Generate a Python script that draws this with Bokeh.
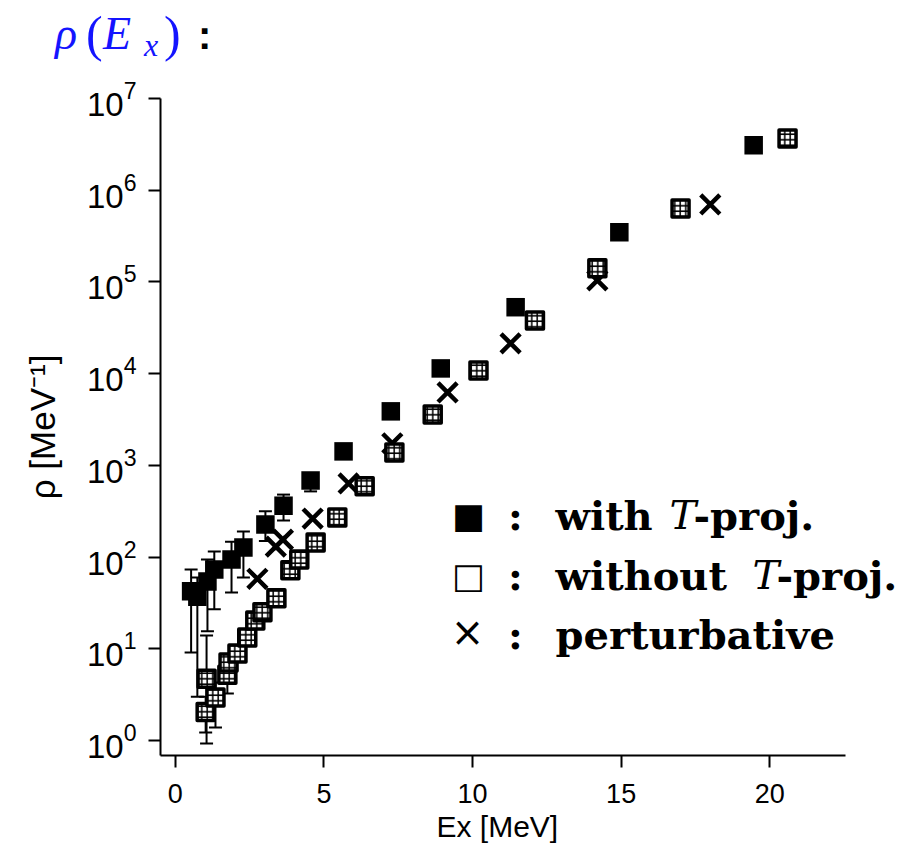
import math
from bokeh.plotting import figure
from bokeh.layouts import column
from bokeh.models import (Range1d, FixedTicker, Whisker, TeeHead, ColumnDataSource,
                          Label, LogTickFormatter, Title, Div)
from bokeh.embed import file_html
from bokeh.resources import INLINE

# ---------------- data ----------------
# with T-projection (filled squares)
ex_with = [0.53, 0.74, 1.08, 1.31, 1.89, 2.29, 3.03, 3.64, 4.55, 5.66, 7.25, 8.93, 11.45, 14.94, 19.46]
rho_with = [42.5, 37, 54, 73, 94, 127, 227, 363, 684, 1420, 3880, 11400, 53000, 347000, 3090000]
# error bars of the low-lying "with" points
ex_with_err = [0.53, 0.74, 1.08, 1.31, 1.89, 2.29, 3.03, 3.64, 4.55]
with_err_lo = [9.1, 3.0, 15.5, 27, 41, 60, 150, 250, 520]
with_err_hi = [73, 60, 94, 115, 147, 190, 315, 480, 780]

# without T-projection (open squares)
ex_wo = [1.02, 1.05, 1.35, 1.75, 1.79, 2.09, 2.42, 2.69, 2.93, 3.40, 3.87, 4.17, 4.72,
         5.45, 6.37, 7.37, 8.66, 10.2, 12.1, 14.2, 17.0, 20.6]
rho_wo = [2.04, 4.7, 2.95, 5.2, 7.1, 8.9, 13.3, 20.3, 25, 35.5, 72, 94, 144,
          270, 590, 1380, 3590, 10800, 38000, 141000, 631000, 3670000]
ex_wo_err = [1.02, 1.05, 1.35, 1.75]
wo_err_lo = [1.22, 0.93, 1.39, 3.25]
wo_err_hi = [3.0, 14.0, 4.3, 6.8]

# perturbative (crosses)
ex_pert = [2.76, 3.38, 3.62, 4.62, 5.83, 7.30, 9.16, 11.28, 14.2, 18.0]
rho_pert = [58, 130, 155, 263, 635, 1740, 6240, 21400, 104000, 700000]

x_ticks = [0, 5, 10, 15, 20]
y_ticks = [1, 10, 100, 1e3, 1e4, 1e5, 1e6, 1e7]

# ---------------- geometry ----------------
TITLE_H = 70
AX_X_LO, AX_X_HI = -0.5, 22.55          # extent of the drawn x axis
Y_LO, Y_HI = 10 ** -0.1636, 1e7
AX_W, AX_H = 685, 657
FRAME_L, FRAME_T = 160, 98               # page px of frame left / top
FRAME_W = 760                            # frame continues right of the axis (legend room)

XS = AX_W / (AX_X_HI - AX_X_LO)
YS = AX_H / (math.log10(Y_HI) - math.log10(Y_LO))
X_LO = AX_X_LO
X_HI = AX_X_LO + FRAME_W / XS

p = figure(frame_width=FRAME_W, frame_height=AX_H, y_axis_type="log",
           x_range=Range1d(X_LO, X_HI), y_range=Range1d(Y_LO, Y_HI),
           output_backend="svg", toolbar_location=None,
           min_border_left=FRAME_L, min_border_top=FRAME_T - TITLE_H,
           min_border_right=0, min_border_bottom=40,
           background_fill_color="white", border_fill_color="white")
p.outline_line_color = None
p.grid.visible = False

for ax in (p.xaxis[0], p.yaxis[0]):
    ax.axis_line_width = 2
    ax.axis_line_color = "black"
    ax.major_tick_line_width = 2
    ax.major_tick_line_color = "black"
    ax.major_tick_out = 12
    ax.major_tick_in = 0
    ax.minor_tick_line_color = None
    ax.major_label_text_font = "Liberation Sans"
    ax.major_label_text_color = "black"
    ax.axis_label_text_font = "Liberation Sans"
    ax.axis_label_text_font_style = "normal"
    ax.axis_label_text_color = "black"

p.xaxis[0].major_label_text_font_size = "27px"
p.yaxis[0].major_label_text_font_size = "33px"
p.xaxis[0].bounds = (AX_X_LO, AX_X_HI)
p.xaxis[0].ticker = FixedTicker(ticks=x_ticks)
p.yaxis[0].ticker = FixedTicker(ticks=y_ticks)
p.yaxis[0].formatter = LogTickFormatter()
p.xaxis[0].major_label_standoff = 16
p.yaxis[0].major_label_standoff = 12
p.yaxis[0].axis_label = "ρ [MeV⁻¹]"
p.yaxis[0].axis_label_text_font_size = "35px"
p.yaxis[0].axis_label_standoff = 22

xlab = Title(text="Ex [MeV]", align="left", offset=276, text_font="Liberation Sans",
             text_font_size="30px", text_font_style="normal", text_color="black", standoff=5)
p.add_layout(xlab, "below")

# error bars
src_we = ColumnDataSource(dict(x=ex_with_err, lo=with_err_lo, hi=with_err_hi))
src_oe = ColumnDataSource(dict(x=ex_wo_err, lo=wo_err_lo, hi=wo_err_hi))
for src in (src_we, src_oe):
    w = Whisker(source=src, base="x", lower="lo", upper="hi", dimension="height",
                line_color="black", line_width=2,
                upper_head=TeeHead(size=13, line_width=2, line_color="black"),
                lower_head=TeeHead(size=13, line_width=2, line_color="black"))
    p.add_layout(w)

# markers
p.scatter(ex_with, rho_with, marker="square", size=18.5, fill_color="black", line_color=None)
p.scatter(ex_pert, rho_pert, marker="x", size=27, line_color="black", line_width=4.5)
p.scatter(ex_wo, rho_wo, marker="square", size=17, fill_color="white", line_color="black",
          line_width=3.5, line_join="round", hatch_pattern="+", hatch_scale=5.5,
          hatch_weight=1.5, hatch_color="black")


# ---------------- legend text (page pixel -> data helpers) ----------------
def px2x(px):
    return AX_X_LO + (px - FRAME_L) / XS


def py2y(py):
    return 10 ** (math.log10(Y_HI) - (py - FRAME_T) / YS)


def L(text, px, py, size, font, style="normal", color="black", align="left"):
    py = py - 0.33 * size   # compensate the renderer's baseline placement
    p.add_layout(Label(x=px2x(px), y=py2y(py), text=text, text_font=font,
                       text_font_size=f"{size}px", text_font_style=style,
                       text_color=color, text_align=align, text_baseline="alphabetic"))


rows = [528, 588, 647]
L("■", 468, rows[0] - 1, 35, "DejaVu Sans", "normal", "black", "center")
L("□", 468, rows[1] - 1, 35, "DejaVu Sans", "normal", "black", "center")
L("×", 467, rows[2] - 2, 40, "DejaVu Sans", "normal", "black", "center")
for r in rows:
    L(":", 515, r, 40, "DejaVu Serif", "bold", "black", "center")
L("with", 555, rows[0], 40, "DejaVu Serif", "bold")
L("T", 669, rows[0], 40, "DejaVu Serif", "italic")
L("-proj.", 693, rows[0], 40, "DejaVu Serif", "bold")
L("without", 555, rows[1], 40, "DejaVu Serif", "bold")
L("T", 752, rows[1], 40, "DejaVu Serif", "italic")
L("-proj.", 776, rows[1], 40, "DejaVu Serif", "bold")
L("perturbative", 555, rows[2], 40, "DejaVu Serif", "bold")

# ---------------- title strip (HTML text) ----------------
BLUE = "#1414ff"


def span(text, left, baseline, size, family, style, weight, color, asc):
    top = baseline - asc * size
    return (f'<span style="position:absolute;left:{left}px;top:{top:.1f}px;'
            f'font-family:\'{family}\';font-size:{size}px;line-height:{size}px;'
            f'font-style:{style};font-weight:{weight};color:{color};white-space:nowrap;">'
            f'{text}</span>')


SERIF_ASC, SANS_ASC = 0.8375, 0.8465
html = ('<div style="position:relative;width:920px;height:70px;margin:0;padding:0;">'
        + span("ρ", 55, 49, 46, "Liberation Serif", "italic", "normal", BLUE, SERIF_ASC)
        + span("(", 86, 51, 50, "Liberation Serif", "normal", "normal", BLUE, SERIF_ASC)
        + span("E", 103, 49, 46, "Liberation Serif", "italic", "normal", BLUE, SERIF_ASC)
        + span("x", 144, 56, 32, "Liberation Serif", "italic", "normal", BLUE, SERIF_ASC)
        + span(")", 164, 51, 50, "Liberation Serif", "normal", "normal", BLUE, SERIF_ASC)
        + span(":", 198, 49, 40, "Liberation Sans", "normal", "bold", "black", SANS_ASC)
        + '</div>')
title_div = Div(text=html, width=920, height=TITLE_H, margin=0,
                styles={"margin": "0", "padding": "0"})

layout = column(title_div, p, spacing=0)
open("out.html", "w").write(file_html(layout, INLINE))
